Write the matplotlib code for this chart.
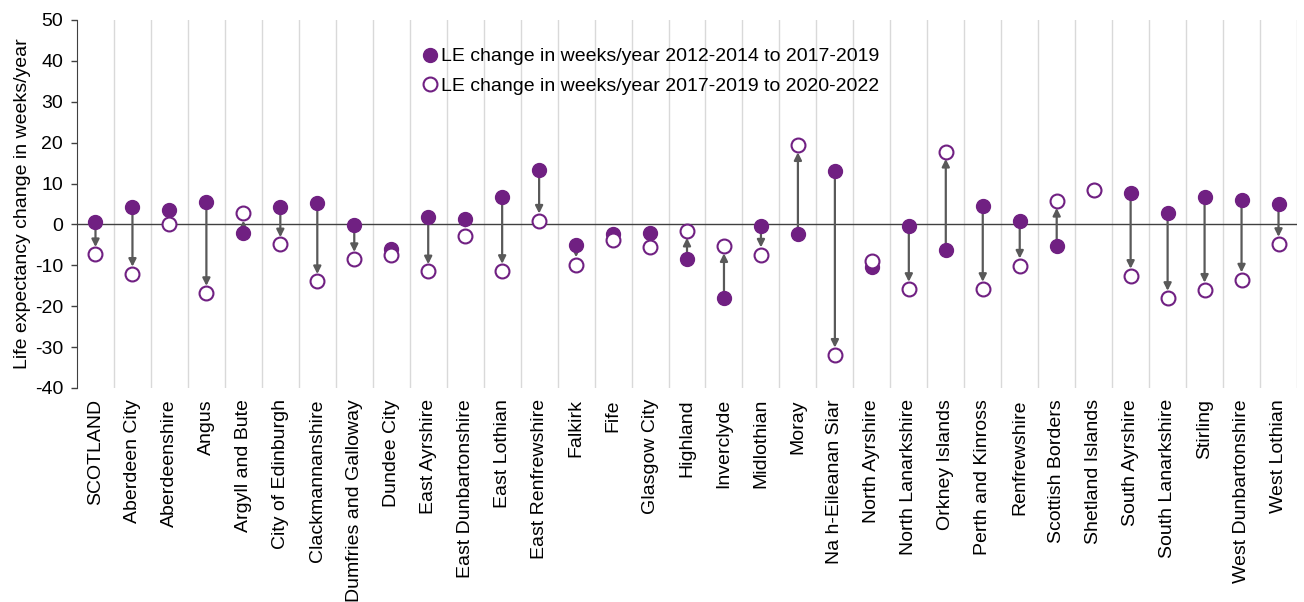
import matplotlib
matplotlib.use("Agg")
import matplotlib.pyplot as plt
from matplotlib.lines import Line2D

plt.rcParams['font.family'] = ['Liberation Sans', 'DejaVu Sans']
plt.rcParams['axes.unicode_minus'] = False

areas = ["SCOTLAND", "Aberdeen City", "Aberdeenshire", "Angus", "Argyll and Bute",
         "City of Edinburgh", "Clackmannanshire", "Dumfries and Galloway", "Dundee City",
         "East Ayrshire", "East Dunbartonshire", "East Lothian", "East Renfrewshire",
         "Falkirk", "Fife", "Glasgow City", "Highland", "Inverclyde", "Midlothian", "Moray",
         "Na h-Eileanan Siar", "North Ayrshire", "North Lanarkshire", "Orkney Islands",
         "Perth and Kinross", "Renfrewshire", "Scottish Borders", "Shetland Islands",
         "South Ayrshire", "South Lanarkshire", "Stirling", "West Dunbartonshire", "West Lothian"]

change_2012_2019 = [0.7, 4.2, 3.5, 5.5, -2.0, 4.2, 5.2, -0.2, -6.0, 1.9, 1.3, 6.7, 13.4,
                    -5.1, -2.4, -2.1, -8.4, -18.1, -0.4, -2.3, 13.1, -10.5, -0.3, -6.3,
                    4.6, 0.9, -5.3, 8.5, 7.6, 2.7, 6.6, 6.1, 4.9]
change_2017_2022 = [-7.3, -12.1, 0.0, -16.8, 2.7, -4.9, -13.9, -8.5, -7.5, -11.5, -2.8, -11.4, 0.9,
                    -9.8, -3.8, -5.5, -1.5, -5.3, -7.4, 19.4, -31.9, -9.0, -15.8, 17.8,
                    -15.8, -10.1, 5.8, 8.5, -12.6, -18.0, -16.0, -13.5, -4.8]

label1 = "LE change in weeks/year 2012-2014 to 2017-2019"
label2 = "LE change in weeks/year 2017-2019 to 2020-2022"

purple = "#702082"
grey = "#595959"

fig = plt.figure(figsize=(13.04, 6.02), dpi=100)
ax = fig.add_axes([77/1304, 1 - 388/602, (1297 - 77)/1304, (388 - 20)/602])

n = len(areas)
x = list(range(n))

# vertical category gridlines
for b in range(n):
    ax.axvline(b + 0.5, color="#D9D9D9", lw=1.0, zorder=0)
ax.axhline(0, color="#404040", lw=1.0, zorder=1)

for xi, a, b in zip(x, change_2012_2019, change_2017_2022):
    if abs(b - a) > 2.0:
        ax.annotate("", xy=(xi, b), xytext=(xi, a),
                    arrowprops=dict(arrowstyle="-|>", color=grey, lw=1.6,
                                    mutation_scale=11, shrinkA=0, shrinkB=5.2),
                    zorder=2)

ax.plot(x, change_2012_2019, linestyle="none", marker="o", markersize=10,
        markerfacecolor=purple, markeredgecolor=purple, zorder=3)
ax.plot(x, change_2017_2022, linestyle="none", marker="o", markersize=10,
        markerfacecolor="white", markeredgecolor=purple, markeredgewidth=1.5, zorder=4)

ax.set_xlim(-0.5, n - 0.5)
ax.set_ylim(-40, 50)
ax.set_yticks(range(-40, 51, 10))
ax.set_xticks(x)
ax.set_xticklabels(areas, rotation=90, fontsize=14)
ax.tick_params(axis="x", length=0, pad=8)
ax.tick_params(axis="y", labelsize=14, length=4, width=1, color="#404040", pad=6)
for s in ["top", "right", "bottom"]:
    ax.spines[s].set_visible(False)
ax.spines["left"].set_color("#404040")
ax.set_ylabel("Life expectancy change in weeks/year", fontsize=14, labelpad=3)

handles = [
    Line2D([], [], linestyle="none", marker="o", markersize=10,
           markerfacecolor=purple, markeredgecolor=purple),
    Line2D([], [], linestyle="none", marker="o", markersize=10,
           markerfacecolor="white", markeredgecolor=purple, markeredgewidth=1.5),
]
fig.legend(handles, [label1, label2], loc="upper left",
           bbox_to_anchor=(412/1304, 1 - 38/602), frameon=False, fontsize=14,
           handlelength=0.8, handletextpad=0.2, labelspacing=0.62, borderpad=0)

fig.savefig("out.png", dpi=100)
